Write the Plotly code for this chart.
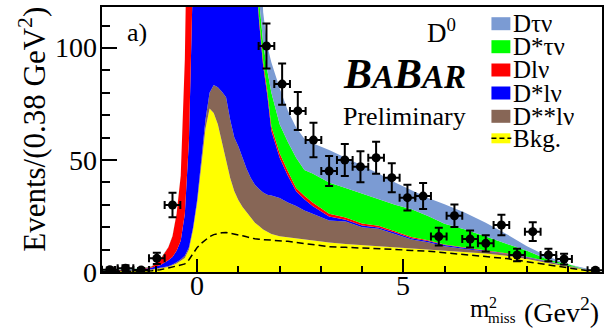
import plotly.graph_objects as go

# ---------------- data ----------------
x_model = [-2.3, -2.0, -1.6, -1.3, -1.1, -0.9, -0.7, -0.6, -0.5, -0.4, -0.3, -0.2, -0.1,
           0.0, 0.1, 0.2, 0.3, 0.4, 0.5, 0.6, 0.7, 0.8, 0.9, 1.0, 1.1, 1.2, 1.3, 1.4,
           1.5, 1.6, 1.7, 1.8, 2.0, 2.2, 2.4, 2.6, 2.8, 3.2, 3.6, 4.0, 4.4, 4.8, 5.2,
           5.6, 6.0, 6.5, 7.0, 7.5, 8.0, 8.5, 9.0, 9.3, 9.6, 9.8]

bkg_top = [0.2, 0.3, 0.5, 0.8, 1.0, 1.5, 2.2, 3.0, 3.8, 5.0, 6.3, 10, 19,
           31, 48, 64, 73, 71, 66, 58, 50, 42, 36, 32, 29, 26.5, 24, 22,
           20.5, 19, 18, 17, 16, 15.5, 15, 14.7, 14.3, 13.2, 12.5, 12, 11.5, 11, 10.8,
           10.2, 9.8, 9.0, 8.3, 7.2, 5.8, 4.0, 2.5, 1.3, 0.3, 0]
dssl_top = [0.3, 0.4, 0.6, 0.9, 1.2, 1.8, 2.6, 3.4, 4.3, 5.6, 7.2, 11, 20,
            32.5, 50, 68, 80, 83.5, 82.5, 80.5, 78, 68, 60, 56, 51, 46, 42, 39,
            37, 35.5, 34.5, 34.2, 33, 31, 29.5, 27.5, 26, 23, 22.5, 20, 19.3, 17, 14.5,
            13.3, 11.5, 10.3, 9.2, 8.0, 6.5, 4.6, 2.8, 1.6, 0.4, 0]
dsl_top = [0.4, 0.6, 0.9, 1.3, 2.0, 3.0, 5.2, 6.7, 9.5, 14, 26, 59, 135,
           300, 300, 300, 300, 300, 300, 300, 300, 300, 300, 300, 300, 300, 300, 140,
           112, 92, 79, 63, 51, 43, 36, 32.5, 29.5, 24.8, 23.3, 20.8, 19.9, 17.6, 15.1,
           13.8, 12.0, 10.7, 9.5, 8.2, 6.7, 4.7, 2.9, 1.7, 0.4, 0]
dl_top = [0.5, 0.7, 1.1, 1.7, 2.5, 5.5, 11, 16, 26, 43, 95, 210, 300,
          300, 300, 300, 300, 300, 300, 300, 300, 300, 300, 300, 300, 300, 300, 142,
          114, 94, 81, 65, 53, 45, 37.5, 34, 31, 26, 24.3, 21.6, 20.6, 18.2, 15.6,
          14.2, 12.3, 10.9, 9.7, 8.4, 6.8, 4.8, 3.0, 1.8, 0.4, 0]
dstau_top = [0.6, 0.8, 1.2, 1.8, 2.6, 5.6, 11.1, 16.1, 26.1, 43.1, 95.1, 210, 300,
             300, 300, 300, 300, 300, 300, 300, 300, 300, 300, 300, 300, 300, 300, 300,
             122, 102, 90, 80, 66, 58, 51, 45.5, 44, 40, 37.5, 35, 32.5, 30, 28,
             25, 21.5, 19, 15.8, 12.5, 9.5, 5.6, 3.5, 1.8, 0.5, 0]
dtau_top = [0.7, 0.9, 1.3, 1.9, 2.7, 5.7, 11.2, 16.2, 26.2, 43.2, 95.2, 210, 300,
            300, 300, 300, 300, 300, 300, 300, 300, 300, 300, 300, 300, 300, 300, 300,
            160, 116, 101, 93.5, 82, 72, 64.5, 59.5, 57.5, 54.5, 51, 47.5, 44, 40, 36.5,
            33, 30.3, 26.5, 22, 17, 11.5, 7, 3.5, 2.1, 0.6, 0]
bkg_dashed = [0.2, 0.2, 0.3, 0.4, 0.6, 1.0, 1.8, 2.3, 2.7, 3.0, 3.6, 5.5, 8.5,
              11, 12.8, 14.5, 15.8, 16.7, 17.2, 17.5, 17.6, 17.3, 17.0, 16.6, 16.2, 15.7, 15.2, 14.8,
              14.6, 14.5, 14.4, 14.3, 14.1, 13.7, 13.2, 12.8, 12.3, 11.3, 11.0, 10.8, 10.5, 10.1, 9.6,
              9.3, 8.6, 7.8, 7.0, 6.0, 4.6, 3.2, 1.8, 0.9, 0.2, 0]

x_data = [-2.12, -1.74, -1.36, -0.98, -0.60, 1.68, 2.06, 2.44, 2.82, 3.20, 3.58, 3.96,
          4.34, 4.72, 5.10, 5.48, 5.86, 6.24, 6.62, 7.00, 7.38, 7.76, 8.14, 8.52, 8.90, 9.66]
y_data = [1.0, 1.7, 0.9, 6.1, 29.9, 100.9, 83.9, 71.9, 58.9, 45.1, 50.0, 47.0,
          51.0, 42.1, 33.2, 33.9, 15.8, 25.1, 14.7, 12.8, 21.0, 7.6, 18.0, 7.6, 5.8, 0.8]
ey_data = [1.0, 1.3, 0.9, 2.5, 5.5, 10.0, 9.2, 8.5, 7.7, 6.7, 7.1, 6.9,
           7.1, 6.5, 5.8, 5.8, 4.0, 5.0, 3.8, 3.6, 4.6, 2.8, 4.2, 2.8, 2.4, 0.9]
bin_half_width = 0.19

x_tick_vals = [0, 5]
x_tick_text = ["0", "5"]
y_tick_vals = [0, 50, 100]
y_tick_text = ["0", "50", "100"]

legend_labels = ["Dτν", "D*τν", "Dlν", "D*lν", "D**lν", "Bkg."]
legend_colors = ["#7b9bd3", "#00ff00", "#ff0000", "#0000ff", "#876656", "#ffff00"]

# ---------------- figure ----------------
FONT = "Liberation Serif"
fig = go.Figure()

layers = [
    (bkg_top, "#ffff00", "tozeroy"),
    (dssl_top, "#876656", "tonexty"),
    (dsl_top, "#0000ff", "tonexty"),
    (dl_top, "#ff0000", "tonexty"),
    (dstau_top, "#00ff00", "tonexty"),
    (dtau_top, "#7b9bd3", "tonexty"),
]
for ys, col, fillmode in layers:
    fig.add_trace(go.Scatter(x=x_model, y=ys, mode="lines", fill=fillmode,
                             fillcolor=col, line=dict(width=0, color=col),
                             showlegend=False, hoverinfo="skip"))

fig.add_trace(go.Scatter(x=x_model, y=bkg_dashed, mode="lines",
                         line=dict(color="black", width=1.5, dash="7px,4px"),
                         showlegend=False, hoverinfo="skip"))

fig.add_trace(go.Scatter(
    x=x_data, y=y_data, mode="markers",
    marker=dict(color="black", size=9),
    error_y=dict(type="data", array=ey_data, color="black", thickness=2, width=4),
    error_x=dict(type="constant", value=bin_half_width, color="black", thickness=2, width=4),
    showlegend=False))

fig.update_layout(
    width=606, height=335,
    margin=dict(l=102, r=2, t=7, b=63),
    plot_bgcolor="white", paper_bgcolor="white",
    font=dict(family=FONT, color="black", size=26),
    xaxis=dict(range=[-2.31, 9.82], tickmode="array", tickvals=x_tick_vals,
               showticklabels=False, ticks="inside", ticklen=13,
               tickwidth=1.5, tickcolor="black", showline=True, linecolor="black",
               linewidth=1.5, mirror=True, showgrid=False, zeroline=False,
               minor=dict(tick0=0, dtick=1, ticks="inside", ticklen=6,
                          tickwidth=1.5, tickcolor="black", showgrid=False)),
    yaxis=dict(range=[0, 118.3], tickmode="array", tickvals=y_tick_vals,
               showticklabels=False, ticks="inside", ticklen=15,
               tickwidth=1.5, tickcolor="black", showline=True, linecolor="black",
               linewidth=1.5, mirror=True, showgrid=False, zeroline=False,
               minor=dict(tick0=0, dtick=10, ticks="inside", ticklen=8,
                          tickwidth=1.5, tickcolor="black", showgrid=False)),
)

def px2paper_x(px):
    return (px - 102) / 502.0

def py2paper_y(py):
    return (272 - py) / 265.0

ann = []
def add_text(text, px, py, size, xanchor="left", yanchor="middle", angle=0):
    ann.append(dict(text=text, x=px2paper_x(px), y=py2paper_y(py), xref="paper",
                    yref="paper", showarrow=False, xanchor=xanchor, yanchor=yanchor,
                    textangle=angle, font=dict(family=FONT, size=size, color="black")))

# tick labels placed on the axis scales
for v, t in zip(x_tick_vals, x_tick_text):
    ann.append(dict(text=t, x=v, xref="x", y=py2paper_y(285), yref="paper",
                    showarrow=False, xanchor="center", yanchor="middle",
                    font=dict(family=FONT, size=28, color="black")))
for v, t in zip(y_tick_vals, y_tick_text):
    ann.append(dict(text=t, x=px2paper_x(99), xref="paper", y=v, yref="y",
                    showarrow=False, xanchor="right", yanchor="middle",
                    font=dict(family=FONT, size=28, color="black")))

add_text("a)", 125, 33, 26)
add_text("D<sup>0</sup>", 426, 31, 27)
add_text("<b><i>B<span style='font-size:33px'>A</span>B<span style='font-size:33px'>AR</span></i></b>",
         406, 74, 42, xanchor="center")
add_text("Preliminary", 406, 116, 26, xanchor="center")
add_text("Events/(0.38 GeV<sup>2</sup>)", 32, 5, 31, xanchor="center", yanchor="top", angle=-90)
add_text("m", 469, 308, 25)
add_text("2", 489, 302, 16)
add_text("miss", 488, 318, 15)
add_text("(Gev<sup>2</sup>)", 603, 310, 28, xanchor="right")

shapes = []
row_py = [23.7, 46.7, 70.0, 93.0, 116.3, 138.3]
for i, (lab, col) in enumerate(zip(legend_labels, legend_colors)):
    cy = row_py[i]
    hh = 6.5 if i < 5 else 5.0
    shapes.append(dict(type="rect", xref="paper", yref="paper",
                       x0=px2paper_x(493), x1=px2paper_x(512),
                       y0=py2paper_y(cy + hh), y1=py2paper_y(cy - hh),
                       fillcolor=col, line=dict(width=0)))
    add_text(lab, 513, cy, 25)
shapes.append(dict(type="line", xref="paper", yref="paper",
                   x0=px2paper_x(493), x1=px2paper_x(513),
                   y0=py2paper_y(row_py[5]), y1=py2paper_y(row_py[5]),
                   line=dict(color="black", width=1.5, dash="5px,3px")))

fig.update_layout(annotations=ann, shapes=shapes)
fig.write_html("out.html")
